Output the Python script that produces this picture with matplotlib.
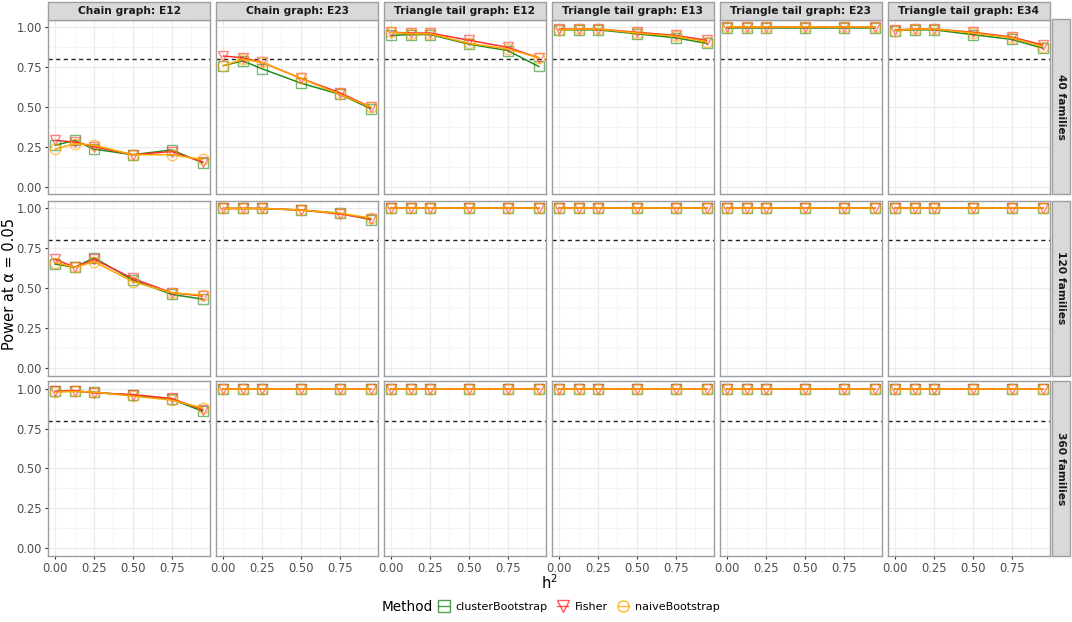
import matplotlib
matplotlib.use("Agg")
import matplotlib.pyplot as plt
from matplotlib.lines import Line2D
from matplotlib.patches import Rectangle

h2 = [0.0, 0.125, 0.25, 0.5, 0.75, 0.95]
graphs = ["Chain graph: E12", "Chain graph: E23", "Triangle tail graph: E12",
          "Triangle tail graph: E13", "Triangle tail graph: E23", "Triangle tail graph: E34"]
families = ["40 families", "120 families", "360 families"]
methods = ["clusterBootstrap", "Fisher", "naiveBootstrap"]

cluster_40 = [
    [0.26, 0.29, 0.235, 0.20, 0.23, 0.15],
    [0.76, 0.79, 0.74, 0.65, 0.58, 0.49],
    [0.95, 0.955, 0.955, 0.895, 0.855, 0.755],
    [0.985, 0.985, 0.985, 0.96, 0.935, 0.90],
    [0.998, 0.998, 0.998, 0.998, 0.998, 0.998],
    [0.98, 0.985, 0.985, 0.955, 0.925, 0.87],
]
fisher_40 = [
    [0.29, 0.28, 0.25, 0.20, 0.22, 0.155],
    [0.82, 0.81, 0.78, 0.68, 0.59, 0.50],
    [0.97, 0.965, 0.965, 0.92, 0.875, 0.81],
    [0.99, 0.99, 0.99, 0.97, 0.95, 0.92],
    [1.0, 1.0, 1.0, 1.0, 1.0, 1.0],
    [0.985, 0.99, 0.99, 0.97, 0.94, 0.89],
]
naive_40 = [
    [0.235, 0.27, 0.26, 0.20, 0.20, 0.17],
    [0.76, 0.80, 0.78, 0.68, 0.58, 0.50],
    [0.97, 0.96, 0.96, 0.90, 0.865, 0.81],
    [0.985, 0.99, 0.99, 0.965, 0.945, 0.91],
    [1.0, 1.0, 1.0, 1.0, 1.0, 1.0],
    [0.98, 0.99, 0.99, 0.965, 0.935, 0.88],
]
cluster_120 = [
    [0.65, 0.63, 0.69, 0.55, 0.46, 0.43],
    [1.0, 1.0, 1.0, 0.99, 0.97, 0.93],
    [1.0, 1.0, 1.0, 1.0, 1.0, 1.0],
    [1.0, 1.0, 1.0, 1.0, 1.0, 1.0],
    [1.0, 1.0, 1.0, 1.0, 1.0, 1.0],
    [1.0, 1.0, 1.0, 1.0, 1.0, 1.0],
]
fisher_120 = [
    [0.68, 0.63, 0.68, 0.56, 0.47, 0.45],
    [1.0, 1.0, 1.0, 0.99, 0.965, 0.935],
    [1.0, 1.0, 1.0, 1.0, 1.0, 1.0],
    [1.0, 1.0, 1.0, 1.0, 1.0, 1.0],
    [1.0, 1.0, 1.0, 1.0, 1.0, 1.0],
    [1.0, 1.0, 1.0, 1.0, 1.0, 1.0],
]
naive_120 = [
    [0.66, 0.63, 0.665, 0.54, 0.47, 0.455],
    [1.0, 1.0, 1.0, 0.99, 0.97, 0.94],
    [1.0, 1.0, 1.0, 1.0, 1.0, 1.0],
    [1.0, 1.0, 1.0, 1.0, 1.0, 1.0],
    [1.0, 1.0, 1.0, 1.0, 1.0, 1.0],
    [1.0, 1.0, 1.0, 1.0, 1.0, 1.0],
]
cluster_360 = [
    [0.985, 0.985, 0.98, 0.96, 0.935, 0.86],
    [1.0, 1.0, 1.0, 1.0, 1.0, 1.0],
    [1.0, 1.0, 1.0, 1.0, 1.0, 1.0],
    [1.0, 1.0, 1.0, 1.0, 1.0, 1.0],
    [1.0, 1.0, 1.0, 1.0, 1.0, 1.0],
    [1.0, 1.0, 1.0, 1.0, 1.0, 1.0],
]
fisher_360 = [
    [0.985, 0.99, 0.975, 0.965, 0.94, 0.87],
    [1.0, 1.0, 1.0, 1.0, 1.0, 1.0],
    [1.0, 1.0, 1.0, 1.0, 1.0, 1.0],
    [1.0, 1.0, 1.0, 1.0, 1.0, 1.0],
    [1.0, 1.0, 1.0, 1.0, 1.0, 1.0],
    [1.0, 1.0, 1.0, 1.0, 1.0, 1.0],
]
naive_360 = [
    [0.98, 0.985, 0.98, 0.955, 0.93, 0.88],
    [1.0, 1.0, 1.0, 1.0, 1.0, 1.0],
    [1.0, 1.0, 1.0, 1.0, 1.0, 1.0],
    [1.0, 1.0, 1.0, 1.0, 1.0, 1.0],
    [1.0, 1.0, 1.0, 1.0, 1.0, 1.0],
    [1.0, 1.0, 1.0, 1.0, 1.0, 1.0],
]
threshold = 0.8

rows = [
    (cluster_40, fisher_40, naive_40),
    (cluster_120, fisher_120, naive_120),
    (cluster_360, fisher_360, naive_360),
]

colors = ["#228B22", "#FF3030", "#FFA500"]
markers = ["s", "v", "o"]

W, H = 1072, 622
plt.rcParams['font.family'] = ['DejaVu Sans']
fig = plt.figure(figsize=(W / 100, H / 100), dpi=100)

col_left = [48, 216, 384, 552, 720, 888]
col_w = 162
row_top = [19.5, 200.5, 381]
row_h = 175

def fx(px):
    return px / W

def fy(py):
    return 1 - py / H

border_col = "#9E9E9E"
tick_col = "#4D4D4D"

for r in range(3):
    for c in range(6):
        l = col_left[c]
        t = row_top[r]
        ax = fig.add_axes([fx(l), fy(t + row_h), col_w / W, row_h / H])
        ax.set_xlim(-0.0475, 0.9975)
        ax.set_ylim(-0.05, 1.05)
        ax.set_xticks([0, 0.25, 0.5, 0.75])
        ax.set_xticks([0.125, 0.375, 0.625, 0.875], minor=True)
        ax.set_yticks([0, 0.25, 0.5, 0.75, 1.0])
        ax.set_yticks([0.125, 0.375, 0.625, 0.875], minor=True)
        ax.grid(which="major", color="#EBEBEB", linewidth=0.9)
        ax.grid(which="minor", color="#F2F2F2", linewidth=0.5)
        ax.set_axisbelow(True)
        for s in ax.spines.values():
            s.set_color(border_col)
            s.set_linewidth(1.0)
        ax.tick_params(which="minor", length=0)
        ax.tick_params(which="major", length=2.5, color="#333333", labelsize=8.3,
                       labelcolor=tick_col, pad=2)
        if c != 0:
            ax.tick_params(axis="y", which="major", left=False, labelleft=False)
        else:
            ax.set_yticklabels(["0.00", "0.25", "0.50", "0.75", "1.00"])
        if r != 2:
            ax.tick_params(axis="x", which="major", bottom=False, labelbottom=False)
        else:
            ax.set_xticklabels(["0.00", "0.25", "0.50", "0.75"])
        ax.axhline(threshold, color="#222222", linestyle=(0, (3, 2.5)), linewidth=1.0, zorder=2)
        for m in range(3):
            ys = rows[r][m][c]
            ax.plot(h2, ys, color=colors[m], linewidth=1.1, zorder=3 + m)
            ax.plot(h2, ys, linestyle="none", marker=markers[m], markersize=7.5,
                    markerfacecolor="none", markeredgecolor=colors[m],
                    markeredgewidth=1.0, alpha=0.6, zorder=3 + m)
        if r == 0:
            fig.patches.append(Rectangle((fx(l), fy(t)), col_w / W, (t - 2) / H,
                                         transform=fig.transFigure, facecolor="#D9D9D9",
                                         edgecolor=border_col, linewidth=1.0))
            fig.text(fx(l + col_w / 2), fy((t + 2) / 2 + 0.5), graphs[c], ha="center", va="center",
                     fontsize=7.7, fontweight="bold", color="#1A1A1A")
        if c == 5:
            sl = l + col_w + 1.5
            fig.patches.append(Rectangle((fx(sl), fy(t + row_h)), 18 / W, row_h / H,
                                         transform=fig.transFigure, facecolor="#D9D9D9",
                                         edgecolor=border_col, linewidth=1.0))
            fig.text(fx(sl + 9), fy(t + row_h / 2), families[r], ha="center", va="center",
                     rotation=270, fontsize=7.7, fontweight="bold", color="#1A1A1A")

fig.text(fx(549), fy(583), "h$^2$", ha="center", va="center", fontsize=10.5, color="black")
fig.text(fx(10), fy(284), "Power at α = 0.05", ha="center", va="center", rotation=90,
         fontsize=10.5, color="black")

fig.text(fx(382), fy(607), "Method", ha="left", va="center", fontsize=9.8, color="black")
handles = [Line2D([], [], color=colors[m], marker=markers[m], markerfacecolor="none",
                  markeredgecolor=colors[m], markersize=8, linewidth=1.0, alpha=0.8)
           for m in range(3)]
leg = fig.legend(handles, methods, loc="center left", bbox_to_anchor=(fx(438), fy(607)),
                 ncol=3, frameon=False, fontsize=8.0, handlelength=1.0, handletextpad=0.55,
                 columnspacing=0.9, borderpad=0, borderaxespad=0)

fig.savefig("out.png", dpi=100)
